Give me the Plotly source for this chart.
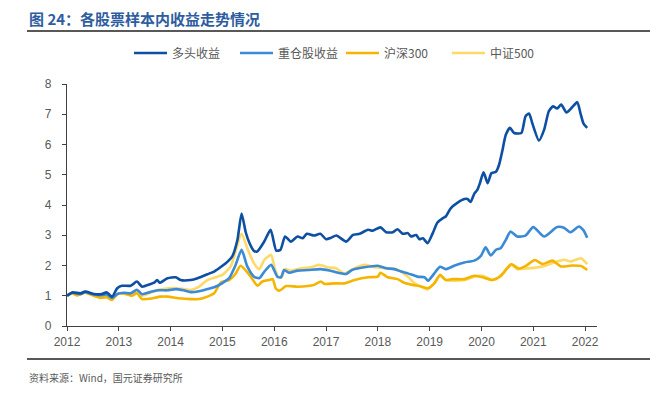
import plotly.graph_objects as go

# ---- data (decimal year, value) ----
duotou = [(2012.00,1.00),(2012.10,1.11),(2012.26,1.08),(2012.35,1.14),(2012.52,1.06),(2012.65,1.05),
          (2012.77,1.11),(2012.87,0.97),(2012.97,1.25),(2013.06,1.33),(2013.23,1.33),(2013.35,1.47),
          (2013.45,1.30),(2013.60,1.38),(2013.68,1.43),(2013.74,1.52),(2013.79,1.43),(2013.94,1.58),
          (2014.10,1.61),(2014.19,1.52),(2014.39,1.52),(2014.52,1.58),(2014.71,1.71),(2014.84,1.80),
          (2015.00,1.99),(2015.10,2.13),(2015.19,2.30),(2015.29,2.85),(2015.37,3.72),(2015.45,3.10),
          (2015.52,2.75),(2015.60,2.50),(2015.67,2.46),(2015.81,2.80),(2015.93,3.18),(2016.04,2.49),
          (2016.12,2.52),(2016.21,2.96),(2016.32,2.79),(2016.45,2.96),(2016.55,2.90),(2016.63,3.05),
          (2016.77,2.99),(2016.89,3.05),(2017.00,2.87),(2017.10,2.92),(2017.20,2.99),(2017.39,2.79),
          (2017.52,3.01),(2017.65,3.05),(2017.81,3.18),(2017.90,3.15),(2018.05,3.26),(2018.16,3.10),
          (2018.29,3.10),(2018.38,3.20),(2018.48,3.05),(2018.58,3.07),(2018.64,2.96),(2018.74,3.01),
          (2018.80,2.87),(2018.87,2.90),(2018.96,2.74),(2019.06,3.07),(2019.15,3.42),(2019.25,3.56),
          (2019.31,3.62),(2019.41,3.90),(2019.54,4.08),(2019.67,4.20),(2019.73,4.20),(2019.79,4.10),
          (2019.86,4.37),(2019.92,4.50),(2019.97,4.72),(2020.04,5.08),(2020.12,4.72),(2020.19,5.05),
          (2020.28,5.10),(2020.34,5.33),(2020.40,5.77),(2020.47,6.32),(2020.55,6.55),(2020.63,6.38),
          (2020.77,6.38),(2020.85,6.93),(2020.92,7.02),(2020.98,6.71),(2021.11,6.13),(2021.21,6.49),
          (2021.30,7.10),(2021.38,7.26),(2021.46,7.19),(2021.54,7.32),(2021.64,7.06),(2021.75,7.23),
          (2021.85,7.40),(2021.91,7.04),(2021.97,6.69),(2022.04,6.55)]

zhongcang = [(2012.00,1.00),(2012.10,1.10),(2012.26,1.06),(2012.35,1.12),(2012.52,1.04),(2012.65,1.02),
             (2012.77,1.04),(2012.87,0.93),(2012.97,1.06),(2013.10,1.10),(2013.23,1.08),(2013.35,1.20),
             (2013.45,1.05),(2013.60,1.12),(2013.75,1.18),(2013.94,1.18),(2014.10,1.22),(2014.25,1.18),
             (2014.39,1.12),(2014.55,1.15),(2014.71,1.22),(2014.84,1.28),(2015.00,1.42),(2015.13,1.58),
             (2015.25,2.00),(2015.37,2.52),(2015.48,1.97),(2015.61,1.63),(2015.71,1.58),(2015.81,1.80),
             (2015.94,2.02),(2016.06,1.63),(2016.13,1.61),(2016.19,1.85),(2016.29,1.76),(2016.45,1.83),
             (2016.65,1.85),(2016.90,1.88),(2017.10,1.82),(2017.39,1.72),(2017.50,1.85),(2017.74,1.94),
             (2018.00,1.99),(2018.16,1.91),(2018.32,1.88),(2018.45,1.80),(2018.58,1.74),(2018.77,1.63),
             (2018.90,1.61),(2018.97,1.50),(2019.09,1.74),(2019.20,1.96),(2019.31,1.88),(2019.47,1.99),
             (2019.67,2.10),(2019.86,2.16),(2019.99,2.32),(2020.08,2.60),(2020.18,2.33),(2020.28,2.52),
             (2020.37,2.57),(2020.47,2.85),(2020.56,3.12),(2020.69,2.96),(2020.85,2.99),(2021.00,3.27),
             (2021.21,2.96),(2021.46,3.27),(2021.59,3.25),(2021.72,3.10),(2021.88,3.29),(2021.97,3.16),
             (2022.04,2.92)]

hs300 = [(2012.00,1.00),(2012.10,1.08),(2012.20,1.01),(2012.35,1.10),(2012.52,1.00),(2012.65,0.93),
         (2012.77,0.95),(2012.87,0.86),(2012.97,1.05),(2013.10,1.08),(2013.25,1.00),(2013.35,1.08),
         (2013.45,0.89),(2013.60,0.90),(2013.80,0.97),(2013.94,0.97),(2014.15,0.92),(2014.39,0.89),
         (2014.55,0.89),(2014.71,0.97),(2014.84,1.08),(2014.97,1.44),(2015.13,1.52),(2015.25,1.72),
         (2015.35,1.99),(2015.52,1.69),(2015.68,1.33),(2015.77,1.47),(2015.90,1.52),(2015.97,1.55),
         (2016.03,1.24),(2016.10,1.17),(2016.23,1.32),(2016.45,1.30),(2016.65,1.32),(2016.77,1.36),
         (2016.90,1.47),(2016.97,1.39),(2017.16,1.41),(2017.35,1.41),(2017.55,1.52),(2017.81,1.61),
         (2018.00,1.63),(2018.05,1.76),(2018.19,1.61),(2018.38,1.55),(2018.51,1.43),(2018.67,1.36),
         (2018.80,1.32),(2018.96,1.25),(2019.09,1.41),(2019.20,1.69),(2019.31,1.52),(2019.44,1.55),
         (2019.67,1.55),(2019.86,1.66),(2020.02,1.61),(2020.21,1.52),(2020.37,1.66),(2020.50,1.91),
         (2020.58,2.04),(2020.72,1.90),(2020.85,1.98),(2021.03,2.18),(2021.18,2.05),(2021.37,2.16),
         (2021.53,1.97),(2021.75,2.00),(2021.93,1.98),(2022.04,1.85)]

zz500 = [(2012.00,1.00),(2012.10,1.10),(2012.26,1.04),(2012.35,1.12),(2012.52,1.00),(2012.65,0.95),
         (2012.77,0.96),(2012.87,0.90),(2012.99,1.07),(2013.23,1.05),(2013.35,1.17),(2013.45,1.00),
         (2013.68,1.15),(2013.85,1.22),(2014.10,1.25),(2014.25,1.22),(2014.39,1.19),(2014.55,1.30),
         (2014.71,1.52),(2014.90,1.63),(2015.00,1.69),(2015.16,1.97),(2015.37,3.05),(2015.48,2.57),
         (2015.61,2.07),(2015.71,1.88),(2015.81,2.19),(2015.94,2.35),(2016.01,1.91),(2016.08,1.63),
         (2016.14,1.61),(2016.21,1.88),(2016.32,1.83),(2016.52,1.91),(2016.71,1.94),(2016.87,2.02),
         (2017.03,1.94),(2017.19,1.91),(2017.35,1.74),(2017.55,1.91),(2017.74,2.02),(2017.94,1.94),
         (2018.19,1.91),(2018.38,1.86),(2018.58,1.63),(2018.71,1.41),(2018.83,1.30),(2018.96,1.21),
         (2019.09,1.41),(2019.20,1.66),(2019.31,1.52),(2019.47,1.50),(2019.67,1.52),(2019.86,1.63),
         (2020.02,1.66),(2020.21,1.52),(2020.37,1.63),(2020.56,2.04),(2020.69,1.88),(2020.85,1.90),
         (2021.05,1.93),(2021.25,2.00),(2021.40,2.10),(2021.60,2.19),(2021.72,2.13),(2021.92,2.24),
         (2022.04,2.04)]

series_names = ["多头收益", "重仓股收益", "沪深300", "中证500"]
series_data = [duotou, zhongcang, hs300, zz500]
series_colors = ["#0D4FA2", "#3A8AD6", "#F5B400", "#FFD966"]

year_ticks = [2012, 2013, 2014, 2015, 2016, 2017, 2018, 2019, 2020, 2021, 2022]
y_ticks = [0, 1, 2, 3, 4, 5, 6, 7, 8]

title_text = "<b>图 24：各股票样本内收益走势情况</b>"
source_text = "资料来源：Wind，国元证券研究所"

CJK = "Noto Sans CJK SC"
LAT = "Liberation Sans, Arial, sans-serif"

fig = go.Figure()
for i in [3, 2, 1, 0]:
    xs = [p[0] for p in series_data[i]]
    ys = [p[1] for p in series_data[i]]
    fig.add_trace(go.Scatter(x=xs, y=ys, mode="lines", name=series_names[i],
                             line=dict(color=series_colors[i], width=2.6, shape="spline", smoothing=0.6),
                             legendrank=i + 1, hoverinfo="skip"))

OFF = 8  # page body margin
W, H = 663 - 2 * OFF, 397 - 2 * OFF
L = 67 - OFF
T = 84 - OFF
R = W - (597 - OFF)
B = H - (326 - OFF)
pw, ph = W - L - R, H - T - B

def px_x(p):
    return (p - OFF - L) / pw

def px_y(p):
    return (H - B - (p - OFF)) / ph

fig.update_layout(
    width=W, height=H,
    margin=dict(l=L, r=R, t=T, b=B, pad=0),
    paper_bgcolor="white", plot_bgcolor="white",
    showlegend=True,
    legend=dict(orientation="h", x=px_x(341), xanchor="center", y=px_y(53), yanchor="middle",
                font=dict(family=CJK, size=12, color="#595959"), itemwidth=33,
                entrywidth=58, entrywidthmode="pixels",
                traceorder="normal", bgcolor="rgba(0,0,0,0)"),
    xaxis=dict(range=[2012, 2022.23], tickvals=year_ticks, ticktext=[str(y) for y in year_ticks],
               showgrid=False, zeroline=False, showline=True, linecolor="#404040", linewidth=1.2,
               ticks="outside", ticklen=4, tickcolor="#404040",
               tickfont=dict(family=LAT, size=12, color="#595959")),
    yaxis=dict(range=[0, 8], tickvals=y_ticks, showgrid=False, zeroline=False, showline=True,
               linecolor="#404040", linewidth=1.2, ticks="outside", ticklen=4, tickcolor="#404040",
               ticklabelstandoff=8,
               tickfont=dict(family=LAT, size=12, color="#595959")),
)

fig.add_annotation(text=title_text, xref="paper", yref="paper", x=px_x(27), y=px_y(18),
                   xanchor="left", yanchor="middle", showarrow=False,
                   font=dict(family=CJK, size=15, color="#2E5D9F"))
fig.add_annotation(text=source_text, xref="paper", yref="paper", x=px_x(27), y=px_y(377),
                   xanchor="left", yanchor="middle", showarrow=False,
                   font=dict(family=CJK, size=10, color="#595959"))
fig.add_shape(type="line", xref="paper", yref="paper", x0=px_x(27), x1=px_x(650),
              y0=px_y(31), y1=px_y(31), line=dict(color="#202020", width=1.5))
fig.add_shape(type="line", xref="paper", yref="paper", x0=px_x(27), x1=px_x(650),
              y0=px_y(359), y1=px_y(359), line=dict(color="#202020", width=1.5))

fig.write_html("out.html")
